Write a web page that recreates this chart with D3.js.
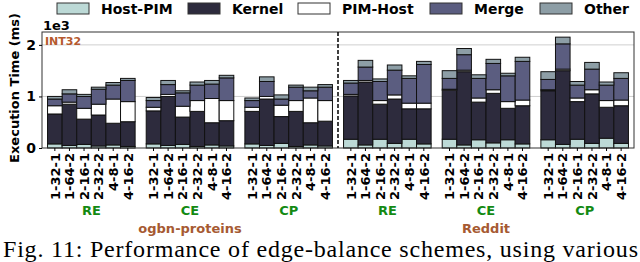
<!DOCTYPE html>
<html>
<head>
<meta charset="utf-8">
<script src="https://cdn.jsdelivr.net/npm/d3@7"></script>
<style>
  body { margin: 0; background: #fff; }
  svg { display: block; }
  text { font-family: "DejaVu Sans", sans-serif; font-weight: bold; }
</style>
</head>
<body>
<div id="chart"></div>
<script>
// categories
var groups = ["RE|ogbn", "CE|ogbn", "CP|ogbn", "RE|reddit", "CE|reddit", "CP|reddit"];
var groupLabels = ["RE", "CE", "CP", "RE", "CE", "CP"];
var datasets = ["ogbn-proteins", "Reddit"];
var configs = ["1-32-1", "1-64-2", "2-16-1", "2-32-2", "4-8-1", "4-16-2"];
var seriesNames = ["Host-PIM", "Kernel", "PIM-Host", "Merge", "Other"];
var yTicks = [0, 1, 2];

// series values (x1e3 ms), 6 configs per group, groups in order above
var hostPim = [
  0.08, 0.05, 0.07, 0.04, 0.06, 0.03,
  0.08, 0.05, 0.07, 0.03, 0.06, 0.04,
  0.08, 0.05, 0.09, 0.03, 0.06, 0.04,
  0.17, 0.06, 0.17, 0.09, 0.17, 0.08,
  0.17, 0.06, 0.16, 0.10, 0.16, 0.08,
  0.16, 0.07, 0.17, 0.09, 0.19, 0.09
];
var kernel = [
  0.58, 0.80, 0.49, 0.60, 0.42, 0.48,
  0.64, 0.95, 0.53, 0.68, 0.43, 0.49,
  0.63, 0.90, 0.52, 0.68, 0.43, 0.48,
  0.84, 1.22, 0.68, 0.86, 0.59, 0.68,
  0.95, 1.42, 0.73, 0.96, 0.61, 0.74,
  0.95, 1.43, 0.73, 0.96, 0.60, 0.73
];
var pimHost = [
  0.16, 0.04, 0.21, 0.21, 0.47, 0.39,
  0.07, 0.04, 0.21, 0.21, 0.47, 0.39,
  0.08, 0.05, 0.22, 0.21, 0.48, 0.40,
  0.03, 0.03, 0.07, 0.08, 0.11, 0.11,
  0.02, 0.03, 0.08, 0.07, 0.13, 0.11,
  0.02, 0.03, 0.07, 0.08, 0.13, 0.11
];
var merge = [
  0.13, 0.16, 0.23, 0.29, 0.27, 0.41,
  0.13, 0.19, 0.26, 0.30, 0.28, 0.44,
  0.13, 0.29, 0.12, 0.26, 0.14, 0.26,
  0.22, 0.26, 0.37, 0.48, 0.48, 0.75,
  0.21, 0.30, 0.38, 0.51, 0.50, 0.75,
  0.20, 0.49, 0.25, 0.40, 0.30, 0.42
];
var other = [
  0.05, 0.08, 0.04, 0.04, 0.05, 0.04,
  0.06, 0.08, 0.04, 0.06, 0.07, 0.05,
  0.05, 0.09, 0.08, 0.04, 0.07, 0.05,
  0.05, 0.13, 0.05, 0.10, 0.05, 0.06,
  0.15, 0.12, 0.07, 0.08, 0.05, 0.08,
  0.15, 0.13, 0.07, 0.13, 0.06, 0.11
];

var colors = ["#bcd9d6", "#2d2b3d", "#ffffff", "#5b5d80", "#8d9ea6"];

// build rows for the stack
var rows = [];
groups.forEach(function (g, gi) {
  configs.forEach(function (c, ci) {
    var i = gi * configs.length + ci;
    rows.push({
      group: g, config: c,
      "Host-PIM": hostPim[i], "Kernel": kernel[i], "PIM-Host": pimHost[i],
      "Merge": merge[i], "Other": other[i]
    });
  });
});

var W = 640, H = 262;
var margin = { top: 32, right: 6, bottom: 114, left: 42 },
  width = W - margin.left - margin.right,
  height = H - margin.top - margin.bottom;

var svg = d3.select("#chart").append("svg")
  .attr("width", W).attr("height", H);

var g = svg.append("g")
  .attr("transform", "translate(" + margin.left + "," + margin.top + ")");

var x0 = d3.scaleBand().domain(groups).range([0, width]).padding(0);
var x1 = d3.scaleBand().domain(configs).range([0, x0.bandwidth()])
  .paddingInner(0).paddingOuter(0.38);
var y = d3.scaleLinear().domain([0, 2.25]).range([height, 0]);

// gridlines
g.selectAll(".grid").data(yTicks.filter(function (d) { return d > 0; }))
  .enter().append("line")
  .attr("x1", 0).attr("x2", width)
  .attr("y1", function (d) { return y(d); }).attr("y2", function (d) { return y(d); })
  .attr("stroke", "#cfcfcf").attr("stroke-width", 1);

// stacked bars
var stack = d3.stack().keys(seriesNames);
var layers = stack(rows);

g.selectAll(".layer").data(layers).enter().append("g")
  .attr("fill", function (d, i) { return colors[i]; })
  .selectAll("rect").data(function (d) { return d; })
  .enter().append("rect")
  .attr("x", function (d) { return x0(d.data.group) + x1(d.data.config); })
  .attr("width", x1.bandwidth())
  .attr("y", function (d) { return y(d[1]); })
  .attr("height", function (d) { return y(d[0]) - y(d[1]); })
  .attr("stroke", "#111").attr("stroke-width", 1);

// frame
g.append("rect").attr("x", 0).attr("y", 0).attr("width", width).attr("height", height)
  .attr("fill", "none").attr("stroke", "#333").attr("stroke-width", 1);

// separator between datasets
g.append("line")
  .attr("x1", x0(groups[3])).attr("x2", x0(groups[3]))
  .attr("y1", 0).attr("y2", height)
  .attr("stroke", "#000").attr("stroke-width", 1.5)
  .attr("stroke-dasharray", "4,2");

// y axis
var yAxis = g.append("g").call(d3.axisLeft(y).tickValues(yTicks).tickSize(3).tickFormat(d3.format("d")));
yAxis.select(".domain").remove();
yAxis.selectAll("text").style("font-size", "14px").attr("fill", "#000").attr("x", -6);

g.append("text").attr("x", 1).attr("y", -2)
  .style("font-size", "13px").text("1e3");

g.append("text").attr("x", 3).attr("y", 13)
  .style("font-size", "11px").attr("fill", "#b5592e").text("INT32");

svg.append("text")
  .attr("transform", "translate(19," + (margin.top + height / 2 - 2) + ") rotate(-90)")
  .attr("text-anchor", "middle")
  .style("font-size", "13px")
  .text("Execution Time (ms)");

// x ticks and labels
var xg = g.append("g").attr("transform", "translate(0," + height + ")");
rows.forEach(function (d) {
  var cx = x0(d.group) + x1(d.config) + x1.bandwidth() / 2;
  xg.append("line").attr("x1", cx).attr("x2", cx).attr("y1", 0).attr("y2", 3)
    .attr("stroke", "#000");
  xg.append("text")
    .attr("transform", "translate(" + cx + ",5) rotate(-90)")
    .attr("text-anchor", "end").attr("dy", "0.36em")
    .style("font-size", "13px")
    .text(d.config);
});

groups.forEach(function (gr, i) {
  xg.append("text")
    .attr("x", x0(gr) + x0.bandwidth() / 2).attr("y", 67)
    .attr("text-anchor", "middle").attr("fill", "#138a13")
    .style("font-size", "13px").text(groupLabels[i]);
});

datasets.forEach(function (ds, i) {
  xg.append("text")
    .attr("x", x0(groups[i * 3 + 1]) + x0.bandwidth() / 2).attr("y", 85)
    .attr("text-anchor", "middle").attr("fill", "#a65a32")
    .style("font-size", "13px").text(ds);
});

// legend
var legendX = [57, 188, 298, 430, 540];
var legend = svg.append("g");
seriesNames.forEach(function (s, i) {
  legend.append("rect").attr("x", legendX[i]).attr("y", 3).attr("width", 32).attr("height", 11)
    .attr("fill", colors[i]).attr("stroke", "#333").attr("stroke-width", 1);
  legend.append("text").attr("x", legendX[i] + 44).attr("y", 14)
    .style("font-size", "14px").text(s);
});

// caption
svg.append("text")
  .attr("x", 3).attr("y", 257)
  .attr("textLength", 635).attr("lengthAdjust", "spacing")
  .style("font-family", "'Liberation Serif', 'Times New Roman', serif")
  .style("font-weight", "normal").style("font-size", "24px")
  .text("Fig. 11: Performance of edge-balance schemes, using various");
</script>
</body>
</html>
